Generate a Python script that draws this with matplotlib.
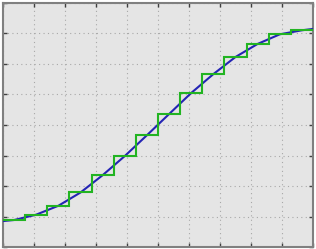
import numpy as np
import matplotlib
matplotlib.use("Agg")
import matplotlib.pyplot as plt

# smooth curve, values
curve_x = [0.0, 0.36, 1.07, 1.79, 2.50, 3.21, 3.93, 4.64, 5.36, 6.07, 6.79, 7.50, 8.21, 8.93, 9.64, 10.0]
curve_y = [0.85, 0.885, 1.06, 1.354, 1.787, 2.351, 2.984, 3.662, 4.361, 5.049, 5.672, 6.23, 6.656, 6.974, 7.105, 7.15]

# quantised (held) version, one level per step
step_levels = [0.885, 1.06, 1.354, 1.787, 2.351, 2.984, 3.662, 4.361, 5.049, 5.672, 6.23, 6.656, 6.974, 7.105]
step_edges = np.linspace(0, 10, len(step_levels) + 1)

fig = plt.figure(figsize=(3.16, 2.49), dpi=100)
ax = fig.add_axes([3 / 316, 2 / 249, 310 / 316, 244 / 249])
ax.set_facecolor("#e5e5e5")

ax.plot(curve_x, curve_y, color="#2424b4", lw=1.5, zorder=3)
ax.stairs(step_levels, step_edges, color="#22b422", lw=1.5, baseline=None, zorder=4)

ax.set_xlim(0, 10)
ax.set_ylim(0, 8)
ax.set_xticks(np.arange(0, 11, 1))
ax.set_yticks(np.arange(0, 9, 1))
ax.set_xticklabels([])
ax.set_yticklabels([])
ax.tick_params(direction="in", length=3, width=1, color="#404040",
               top=True, right=True, bottom=True, left=True)
ax.grid(True, linestyle=(0, (1, 3)), color="#a8a8a8", lw=0.8)
for s in ax.spines.values():
    s.set_color("#808080")
    s.set_linewidth(1.5)

fig.savefig("out.png", dpi=100)
